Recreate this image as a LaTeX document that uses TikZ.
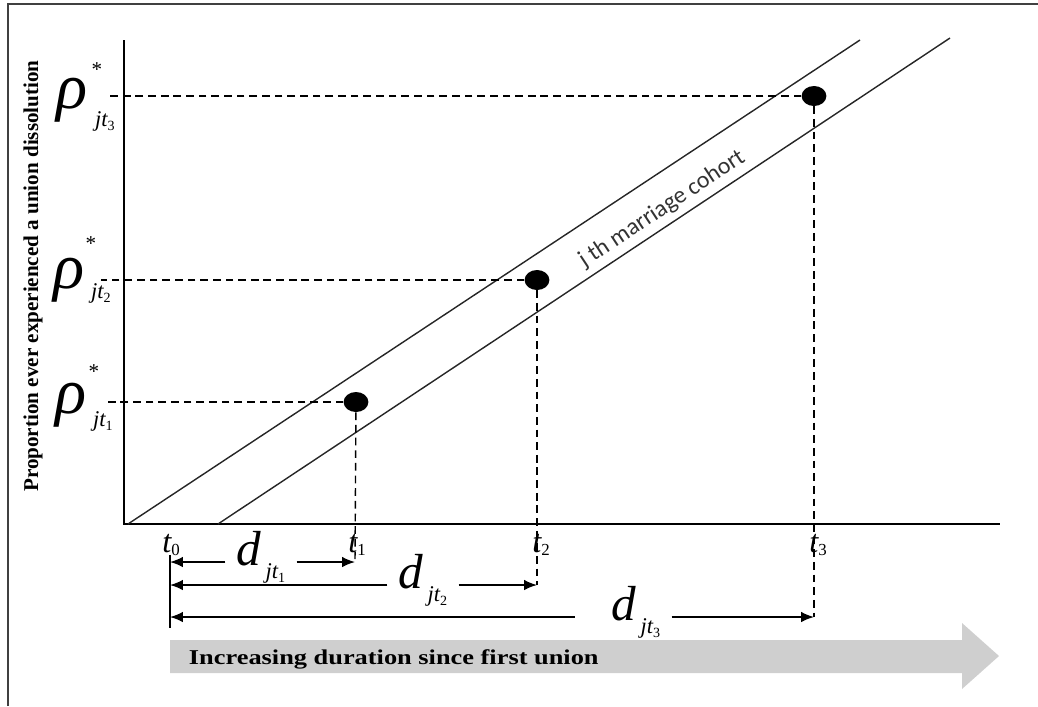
\documentclass[tikz,border=0pt]{standalone}
\usepackage{fontspec}
\setmainfont{Liberation Serif}
\newfontfamily\cohortfont{Carlito}
\newfontfamily\widefont{Liberation Serif}[FakeStretch=1.25]
\usetikzlibrary{arrows.meta,positioning,shapes.geometric}

\newcommand{\bigrho}{\fontsize{46}{46}\selectfont\itshape ρ}
\newcommand{\starmark}{\fontsize{15}{15}\selectfont *}
\newcommand{\jtsub}[1]{{\fontsize{16}{16}\selectfont\itshape jt\raisebox{-3pt}{\fontsize{10}{10}\selectfont\upshape #1}}}
\newcommand{\tlab}[1]{{\fontsize{23}{23}\selectfont\itshape t\raisebox{-2pt}{\fontsize{12}{12}\selectfont\upshape #1}}}
\newcommand{\dlab}[1]{{\fontsize{35}{35}\selectfont\itshape d}\hspace{3pt}\raisebox{-9pt}{\jtsub{#1}}}

\tikzset{
  frameline/.style={line width=1.3pt, black!75},
  axis/.style={line width=1.4pt},
  cohort/.style={line width=1pt, black!85},
  guide/.style={line width=1pt, dash pattern=on 5.5pt off 3.5pt},
  dot/.style={ellipse, fill=black, inner sep=0pt, minimum width=0.62cm, minimum height=0.5cm},
  dimline/.style={line width=1.1pt, -{Latex[length=0.32cm,width=0.26cm]}},
  dimlabel/.style={inner xsep=8pt, inner ysep=0pt},
  bigarrow/.style={fill=black!19, draw=none}
}

\begin{document}
\begin{tikzpicture}[x=0.025cm,y=-0.025cm]
\useasboundingbox (0,0) rectangle (1038,706);

% frame (top and left edges only)
\draw[frameline] (8,706) -- (8,4) -- (1038,4);

% axes
\coordinate (top) at (124,40);
\coordinate (O) at (124,524);
\coordinate (xend) at (1000,524);
\draw[axis] (top) -- (O) -- (xend);
\node[rotate=90, font=\fontsize{15}{15}\selectfont\bfseries] (ylab) at (33,276)
  {Proportion ever experienced a union dissolution};

% the cohort band
\draw[cohort] (128,524) -- (860,40);
\draw[cohort] (218,524) -- (950,38);
\node[rotate=33.5, text=black!80, font=\cohortfont\fontsize{17}{17}\selectfont] (band) at (662,209) {j th marriage cohort};

% observed points
\node[dot] (p1) at (356,402) {};
\node[dot] (p2) at (537,280) {};
\node[dot] (p3) at (814,96) {};

% rho labels
\node (r1) at (71,405) {\bigrho};
\node (r1s) at (94,372) {\starmark};
\node (r1j) at (103,421) {\jtsub{1}};
\node (r2) at (69,280) {\bigrho};
\node (r2s) at (91,244) {\starmark};
\node (r2j) at (101,293) {\jtsub{2}};
\node (r3) at (72,100) {\bigrho};
\node (r3s) at (97,70) {\starmark};
\node (r3j) at (105,121) {\jtsub{3}};

% t labels
\node (t0) at (171,545) {\tlab{0}};
\node (t1) at (357,545) {\tlab{1}};
\node (t2) at (541,545) {\tlab{2}};
\node (t3) at (818,545) {\tlab{3}};

% durations
\coordinate (b1) at (170,562);
\coordinate (b2) at (170,585);
\coordinate (b3) at (170,617);
\coordinate (e1) at (355,562);
\coordinate (e2) at (537,585);
\coordinate (e3) at (814,617);
\draw[line width=1.4pt] (170,555) -- (170,628);
\node[dimlabel] (d1) at (261,557) {\dlab{1}};
\node[dimlabel] (d2) at (423,580) {\dlab{2}};
\node[dimlabel] (d3) at (636,612) {\dlab{3}};
\draw[dimline] (d1.west |- b1) -- (b1);
\draw[dimline] (d1.east |- e1) -- (e1);
\draw[dimline] (d2.west |- b2) -- (b2);
\draw[dimline] (d2.east |- e2) -- (e2);
\draw[dimline] ([xshift=-18pt]d3.west |- b3) -- (b3);
\draw[dimline] (d3.east |- e3) -- (e3);

% dashed guides
\draw[guide] (p1) -- (p1 -| 105,0);
\draw[guide] (p2) -- (p2 -| 101,0);
\draw[guide] (p3) -- (p3 -| 107,0);
\draw[guide] (p1) -- (e1);
\draw[guide] (p2) -- (e2);
\draw[guide] (p3) -- (e3);

% time arrow
\path[bigarrow] (170,640) -- (962,640) -- (962,623) -- (999,656)
  -- (962,689) -- (962,673) -- (170,673) -- cycle;
\node[anchor=west, font=\widefont\fontsize{15}{15}\selectfont\bfseries] (dur) at (184,659)
  {Increasing duration since first union};
\end{tikzpicture}
\end{document}
